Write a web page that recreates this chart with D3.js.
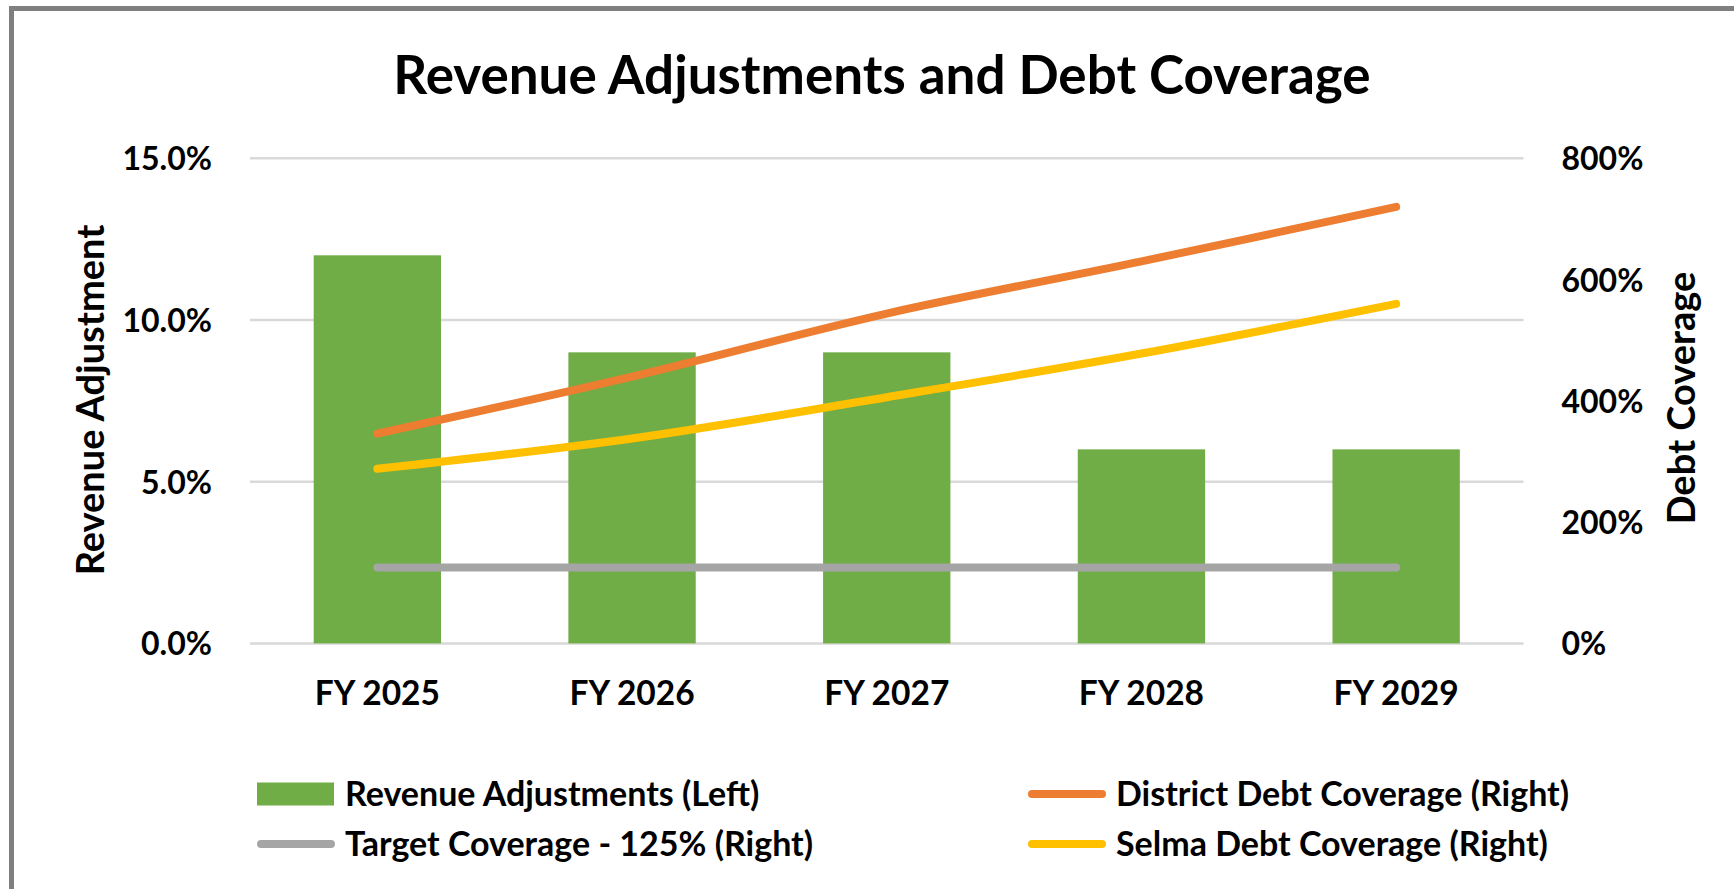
<!DOCTYPE html>
<html>
<head>
<meta charset="utf-8">
<script src="https://cdn.jsdelivr.net/npm/d3@7"></script>
<style>
    body { margin: 0; background: #ffffff; }
    svg { display: block; font-family: Lato, "Open Sans", sans-serif; font-weight: bold; }
</style>
</head>
<body>
<svg width="1734" height="889"></svg>
<script>
// Data
const years = ["FY 2025", "FY 2026", "FY 2027", "FY 2028", "FY 2029"];
const revenueAdj = [0.12, 0.09, 0.09, 0.06, 0.06];          // left axis
const districtCoverage = [3.46, 4.40, 5.44, 6.30, 7.20];    // right axis
const selmaCoverage = [2.88, 3.38, 4.06, 4.78, 5.60];       // right axis
const targetCoverage = [1.25, 1.25, 1.25, 1.25, 1.25];      // right axis
const leftTicks = [0, 0.05, 0.10, 0.15];
const rightTicks = [0, 2, 4, 6, 8];

const green = "#70AD47", orange = "#ED7D31", gray = "#A5A5A5", yellow = "#FFC000";

let svg = d3.select("svg");

// outer chart frame (runs off the right/bottom edge like the original)
svg.append("rect")
    .attr("x", 11.5)
    .attr("y", 8.5)
    .attr("width", 2000)
    .attr("height", 2000)
    .attr("fill", "none")
    .attr("stroke", "#7F7F7F")
    .attr("stroke-width", 5);

// plot area
let plotLeft = 250, plotRight = 1523.5, plotTop = 158.3, plotBottom = 643.4;

let x = d3.scaleBand()
    .domain(years)
    .range([plotLeft, plotRight])
    .paddingInner(0.5)
    .paddingOuter(0.25);
let yL = d3.scaleLinear().domain([0, 0.15]).range([plotBottom, plotTop]);
let yR = d3.scaleLinear().domain([0, 8]).range([plotBottom, plotTop]);

// gridlines
svg.append("g")
    .selectAll("line")
    .data(leftTicks)
    .enter().append("line")
    .attr("x1", plotLeft)
    .attr("x2", plotRight)
    .attr("y1", d => yL(d))
    .attr("y2", d => yL(d))
    .attr("stroke", "#D9D9D9")
    .attr("stroke-width", 2.5);

// bars
svg.append("g")
    .selectAll("rect")
    .data(years)
    .enter().append("rect")
    .attr("x", d => x(d))
    .attr("width", x.bandwidth())
    .attr("y", (d, i) => yL(revenueAdj[i]))
    .attr("height", (d, i) => plotBottom - yL(revenueAdj[i]))
    .attr("fill", green);

// lines on the right axis
let line = d3.line()
    .x((d, i) => x(years[i]) + x.bandwidth() / 2)
    .y(d => yR(d))
    .curve(d3.curveCatmullRom);

[[targetCoverage, gray], [districtCoverage, orange], [selmaCoverage, yellow]].forEach(s => {
    svg.append("path")
        .datum(s[0])
        .attr("d", line)
        .attr("fill", "none")
        .attr("stroke", s[1])
        .attr("stroke-width", 8)
        .attr("stroke-linecap", "round")
        .attr("stroke-linejoin", "round");
});

// axes (labels only, no domain or tick marks)
const leftAxis = svg.append("g")
    .attr("transform", "translate(" + (plotLeft - 35) + ",0)")
    .call(d3.axisLeft(yL).tickValues(leftTicks).tickFormat(d3.format(".1%")).tickSize(0));
const rightAxis = svg.append("g")
    .attr("transform", "translate(" + (plotRight + 35) + ",0)")
    .call(d3.axisRight(yR).tickValues(rightTicks).tickFormat(d3.format(".0%")).tickSize(0));
const bottomAxis = svg.append("g")
    .attr("transform", "translate(0," + (plotBottom + 33) + ")")
    .call(d3.axisBottom(x).tickSize(0));

[leftAxis, rightAxis, bottomAxis].forEach(a => {
    a.select(".domain").remove();
    a.selectAll("text")
        .attr("fill", "#000")
        .attr("font-family", "Lato, sans-serif")
        .attr("font-weight", "bold")
        .attr("font-size", "32px");
});
bottomAxis.selectAll("text").attr("font-size", "33.5px");
leftAxis.selectAll("text").attr("dy", "0.36em");
rightAxis.selectAll("text").attr("dy", "0.36em");
bottomAxis.selectAll("text").attr("dy", "0.75em");

// title
svg.append("text")
    .attr("x", 882)
    .attr("y", 94)
    .attr("text-anchor", "middle")
    .attr("font-size", "53px")
    .text("Revenue Adjustments and Debt Coverage");

// axis titles
svg.append("text")
    .attr("transform", "translate(104,400) rotate(-90)")
    .attr("text-anchor", "middle")
    .attr("font-size", "38px")
    .text("Revenue Adjustment");
svg.append("text")
    .attr("transform", "translate(1695,398) rotate(-90)")
    .attr("text-anchor", "middle")
    .attr("font-size", "38px")
    .text("Debt Coverage");

// legend
const legendItems = [
    { name: "Revenue Adjustments (Left)", color: green, type: "bar", col: 0, row: 0 },
    { name: "District Debt Coverage (Right)", color: orange, type: "line", col: 1, row: 0 },
    { name: "Target Coverage - 125% (Right)", color: gray, type: "line", col: 0, row: 1 },
    { name: "Selma Debt Coverage (Right)", color: yellow, type: "line", col: 1, row: 1 }
];
const legendX = [257, 1028], legendY = [794, 844];

let legend = svg.append("g");
legendItems.forEach(d => {
    let lx = legendX[d.col], ly = legendY[d.row];
    if (d.type === "bar") {
        legend.append("rect")
            .attr("x", lx)
            .attr("y", ly - 11.5)
            .attr("width", 77)
            .attr("height", 23)
            .attr("fill", d.color);
    } else {
        legend.append("line")
            .attr("x1", lx + 4)
            .attr("x2", lx + 74)
            .attr("y1", ly)
            .attr("y2", ly)
            .attr("stroke", d.color)
            .attr("stroke-width", 8)
            .attr("stroke-linecap", "round");
    }
    legend.append("text")
        .attr("x", lx + 88)
        .attr("y", ly)
        .attr("dy", "0.36em")
        .attr("font-size", "34px")
        .text(d.name);
});
</script>
</body>
</html>
